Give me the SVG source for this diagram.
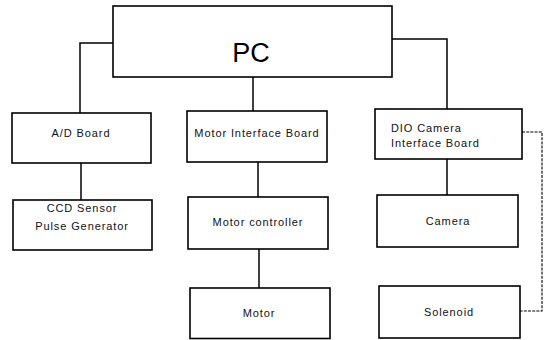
<svg xmlns="http://www.w3.org/2000/svg" width="549" height="340" viewBox="0 0 549 340">
<style>
.box{fill:#fff;stroke:#000;stroke-width:1.6}
.lbl{font-family:"Liberation Sans",Arial,sans-serif;font-size:11px;letter-spacing:0.9px;fill:#111;text-anchor:middle}
.ln{fill:none;stroke:#000;stroke-width:1.5}
.dash{fill:none;stroke:#000;stroke-width:1.1;stroke-dasharray:3 1.2}
</style>
<rect width="549" height="340" fill="#fff"/>
<g id="connectors">
<polyline class="ln" points="113,43 80,43 80,113"/>
<polyline class="ln" points="392,39 447,39 447,109"/>
<line class="ln" x1="253" y1="77" x2="253" y2="111"/>
<line class="ln" x1="81" y1="163" x2="81" y2="200"/>
<line class="ln" x1="258" y1="162" x2="258" y2="197"/>
<line class="ln" x1="259" y1="249" x2="259" y2="288"/>
<line class="ln" x1="447" y1="159" x2="447" y2="195"/>
<polyline class="dash" points="522,132 542,132 542,311 520,311"/>
</g>
<g id="pc">
<rect class="box" x="113" y="6" width="279" height="71"/>
<text x="251" y="62" style="font-family:'Liberation Sans',Arial,sans-serif;font-size:27px;fill:#000;text-anchor:middle">PC</text>
</g>
<g id="ad-board">
<rect class="box" x="12" y="113" width="139" height="50"/>
<text class="lbl" x="81" y="137">A/D Board</text>
</g>
<g id="motor-interface-board">
<rect class="box" x="187" y="111" width="140" height="51"/>
<text class="lbl" x="257" y="137">Motor Interface Board</text>
</g>
<g id="dio-camera-interface-board">
<rect class="box" x="375" y="109" width="147" height="50"/>
<text class="lbl" x="391" y="132" style="text-anchor:start">DIO Camera</text>
<text class="lbl" x="391" y="147" style="text-anchor:start">Interface Board</text>
</g>
<g id="ccd-sensor">
<rect class="box" x="13" y="200" width="139" height="50"/>
<text class="lbl" x="82" y="212">CCD Sensor</text>
<text class="lbl" x="82" y="230">Pulse Generator</text>
</g>
<g id="motor-controller">
<rect class="box" x="188" y="197" width="140" height="52"/>
<text class="lbl" x="258" y="226">Motor controller</text>
</g>
<g id="camera">
<rect class="box" x="377" y="195" width="141" height="52"/>
<text class="lbl" x="448" y="225">Camera</text>
</g>
<g id="motor">
<rect class="box" x="190" y="288" width="140" height="50.5"/>
<text class="lbl" x="259" y="317">Motor</text>
</g>
<g id="solenoid">
<rect class="box" x="379" y="286" width="141" height="52"/>
<text class="lbl" x="449" y="316">Solenoid</text>
</g>
</svg>
